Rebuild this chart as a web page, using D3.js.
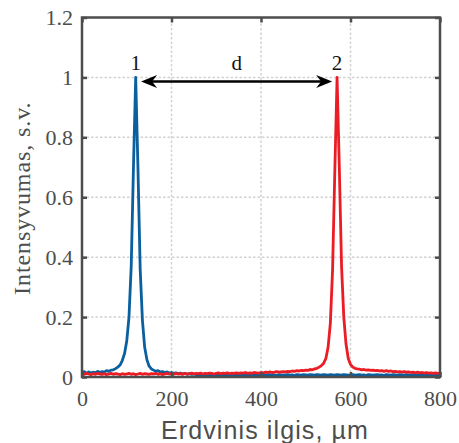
<!DOCTYPE html>
<html>
<head>
<meta charset="utf-8">
<script src="https://cdn.jsdelivr.net/npm/d3@7"></script>
<style>
  body { margin: 0; background: #fff; }
</style>
</head>
<body>
<div id="grafico"></div>
<script>
// posiciones de muestreo (µm)
const posicionesUm = [
  0, 5, 10, 15, 20, 25, 30, 35, 40, 45, 50, 55, 60, 65, 70, 75, 80, 85, 90, 95,
  100, 105, 110, 115, 120, 125, 130, 135, 140, 145, 150, 155, 160, 165, 170, 175, 180, 185, 190, 195,
  200, 205, 210, 215, 220, 225, 230, 235, 240, 245, 250, 255, 260, 265, 270, 275, 280, 285, 290, 295,
  300, 305, 310, 315, 320, 325, 330, 335, 340, 345, 350, 355, 360, 365, 370, 375, 380, 385, 390, 395,
  400, 405, 410, 415, 420, 425, 430, 435, 440, 445, 450, 455, 460, 465, 470, 475, 480, 485, 490, 495,
  500, 505, 510, 515, 520, 525, 530, 535, 540, 545, 550, 555, 560, 565, 570, 575, 580, 585, 590, 595,
  600, 605, 610, 615, 620, 625, 630, 635, 640, 645, 650, 655, 660, 665, 670, 675, 680, 685, 690, 695,
  700, 705, 710, 715, 720, 725, 730, 735, 740, 745, 750, 755, 760, 765, 770, 775, 780, 785, 790, 795,
  800
];

// smailė 1 (mėlyna)
const intensidad1 = [
  0.014, 0.018, 0.012, 0.017, 0.013, 0.016, 0.014, 0.019, 0.015, 0.018,
  0.016, 0.021, 0.019, 0.023, 0.024, 0.028, 0.033, 0.040, 0.055, 0.078,
  0.12, 0.20, 0.37, 0.70, 1.0, 0.70, 0.36, 0.19, 0.10, 0.058,
  0.036, 0.027, 0.023, 0.019, 0.021, 0.017, 0.018, 0.015, 0.017, 0.013,
  0.015, 0.012, 0.014, 0.011, 0.013, 0.010, 0.012, 0.009, 0.011, 0.009,
  0.010, 0.008, 0.009, 0.007, 0.008, 0.006, 0.008, 0.006, 0.007, 0.005,
  0.007,
  0.007, 0.008, 0.006, 0.008, 0.007, 0.009, 0.006, 0.007, 0.008, 0.006,
  0.008, 0.007, 0.006, 0.008, 0.007, 0.006, 0.008, 0.007, 0.005, 0.007,
  0.008, 0.006, 0.007, 0.008, 0.006, 0.007, 0.005, 0.008, 0.007, 0.006,
  0.007, 0.008, 0.006, 0.007, 0.005, 0.008, 0.007, 0.006, 0.008, 0.007,
  0.006, 0.008, 0.007, 0.006, 0.008, 0.007, 0.006, 0.008, 0.007, 0.006,
  0.008, 0.007, 0.006, 0.008, 0.007, 0.006, 0.008, 0.007, 0.006, 0.007,
  0.008, 0.006, 0.007, 0.008, 0.006, 0.007, 0.005, 0.008, 0.007, 0.006,
  0.007, 0.008, 0.006, 0.007, 0.005, 0.008, 0.007, 0.006, 0.008, 0.007,
  0.006, 0.008, 0.007, 0.006, 0.008, 0.007, 0.006, 0.008, 0.007, 0.006,
  0.008, 0.007, 0.006, 0.008, 0.007, 0.006, 0.008, 0.007, 0.006, 0.007
];

// smailė 2 (raudona)
const intensidad2 = [
  0.011, 0.009, 0.012, 0.010, 0.008, 0.011, 0.009, 0.012, 0.010, 0.009,
  0.011, 0.008, 0.010, 0.012, 0.009, 0.011, 0.010, 0.008, 0.011, 0.009,
  0.010, 0.012, 0.009, 0.011, 0.008, 0.010, 0.012, 0.009, 0.011, 0.010,
  0.009, 0.011, 0.010, 0.012, 0.009, 0.011, 0.008, 0.010, 0.012, 0.010,
  0.011, 0.009, 0.012, 0.010, 0.011, 0.009, 0.012, 0.010, 0.011, 0.013,
  0.010, 0.012, 0.011, 0.013, 0.010, 0.012, 0.011, 0.013, 0.012, 0.010,
  0.012, 0.014, 0.011, 0.013, 0.012, 0.014, 0.011, 0.013, 0.012, 0.014,
  0.012, 0.014, 0.013, 0.015, 0.012, 0.014, 0.013, 0.015, 0.014, 0.013,
  0.015, 0.014, 0.016, 0.015, 0.017, 0.015, 0.016, 0.018, 0.016, 0.017,
  0.018, 0.017, 0.019, 0.018, 0.020, 0.019, 0.021, 0.020, 0.022, 0.021,
  0.023, 0.022, 0.025, 0.024, 0.027, 0.029, 0.033, 0.038, 0.046, 0.062,
  0.10, 0.18, 0.36, 0.69, 1.0, 0.70, 0.37, 0.20, 0.11, 0.062,
  0.042, 0.033, 0.029, 0.027, 0.026, 0.024, 0.025, 0.023, 0.024, 0.022,
  0.023, 0.021, 0.022, 0.020, 0.021, 0.019, 0.021, 0.019, 0.020, 0.018,
  0.019, 0.017, 0.018, 0.016, 0.018, 0.016, 0.017, 0.015, 0.016, 0.014,
  0.016, 0.014, 0.015, 0.013, 0.015, 0.013, 0.014, 0.012, 0.014, 0.012,
  0.013
];

const ticksX = [0, 200, 400, 600, 800];
const ticksY = [0, 0.2, 0.4, 0.6, 0.8, 1, 1.2];
const etiquetasY = ["0", "0.2", "0.4", "0.6", "0.8", "1", "1.2"];

const ancho = 459, alto = 443;
const margin = { top: 17.5, right: 19, bottom: 66, left: 82 };
const gris = "#4d4d4d";
const serif = "'Liberation Serif', 'Times New Roman', serif";

const svg = d3.select("#grafico").append("svg")
  .attr("width", ancho)
  .attr("height", alto);

const x = d3.scaleLinear().domain([0, 800]).range([margin.left, ancho - margin.right]);
const y = d3.scaleLinear().domain([0, 1.2]).range([alto - margin.bottom, margin.top]);

// rejilla punteada
svg.append("g").selectAll("line")
  .data(ticksX.slice(1, -1)).enter().append("line")
  .attr("x1", d => x(d)).attr("x2", d => x(d))
  .attr("y1", y(0)).attr("y2", y(1.2))
  .attr("stroke", "#d2d2d2").attr("stroke-width", 1.5).attr("stroke-dasharray", "2.5,2");
svg.append("g").selectAll("line")
  .data(ticksY.slice(1, -1)).enter().append("line")
  .attr("y1", d => y(d)).attr("y2", d => y(d))
  .attr("x1", x(0)).attr("x2", x(800))
  .attr("stroke", "#d2d2d2").attr("stroke-width", 1.5).attr("stroke-dasharray", "2.5,2");

// curvas
const linea = serie => d3.line()
  .x((d, i) => x(posicionesUm[i]))
  .y(d => y(d))(serie);

svg.append("path")
  .attr("d", linea(intensidad1))
  .attr("fill", "none").attr("stroke", "#0a5f9e")
  .attr("stroke-width", 2.8).attr("stroke-linejoin", "round");
svg.append("path")
  .attr("d", linea(intensidad2))
  .attr("fill", "none").attr("stroke", "#ec1c24")
  .attr("stroke-width", 2.8).attr("stroke-linejoin", "round");

// ejes (marcas hacia adentro)
const ejeX = svg.append("g")
  .attr("transform", `translate(0,${y(0)})`)
  .call(d3.axisBottom(x).tickValues(ticksX).tickSize(-5).tickPadding(13).tickFormat(d3.format("d")));
const ejeY = svg.append("g")
  .attr("transform", `translate(${x(0)},0)`)
  .call(d3.axisLeft(y).tickValues(ticksY).tickSize(-5).tickPadding(9).tickFormat((d, i) => etiquetasY[i]));
const ejeTop = svg.append("g")
  .attr("transform", `translate(0,${y(1.2)})`)
  .call(d3.axisTop(x).tickValues(ticksX).tickSize(-5).tickFormat(""));
const ejeDer = svg.append("g")
  .attr("transform", `translate(${x(800)},0)`)
  .call(d3.axisRight(y).tickValues(ticksY).tickSize(-5).tickFormat(""));

[ejeX, ejeY, ejeTop, ejeDer].forEach(g => {
  g.select(".domain").remove();
  g.selectAll(".tick line").attr("stroke", gris).attr("stroke-width", 2.5);
  g.selectAll("text")
    .attr("fill", gris)
    .style("font-family", serif)
    .style("font-size", "22px");
});

// marco
svg.append("rect")
  .attr("x", x(0)).attr("y", y(1.2))
  .attr("width", x(800) - x(0)).attr("height", y(0) - y(1.2))
  .attr("fill", "none").attr("stroke", gris).attr("stroke-width", 2.5);

// titulos de ejes
svg.append("text")
  .attr("x", (x(0) + x(800)) / 2 + 4)
  .attr("y", 439)
  .attr("text-anchor", "middle")
  .attr("fill", gris)
  .style("font-family", "'Liberation Sans', Arial, sans-serif")
  .style("font-size", "25px")
  .style("letter-spacing", "1.1px")
  .text("Erdvinis ilgis, µm");

svg.append("text")
  .attr("transform", `translate(30,${(y(0) + y(1.2)) / 2 + 1}) rotate(-90)`)
  .attr("text-anchor", "middle")
  .attr("fill", gris)
  .style("font-family", serif)
  .style("font-size", "24px")
  .style("letter-spacing", "0.9px")
  .text("Intensyvumas, s.v.");

// anotaciones
[["1", 120], ["d", 346], ["2", 570]].forEach(([t, pos]) => {
  svg.append("text")
    .attr("x", x(pos)).attr("y", y(1.026))
    .attr("text-anchor", "middle")
    .attr("fill", "#111")
    .style("font-family", serif)
    .style("font-size", "21px")
    .text(t);
});

// flecha doble
const ya = y(0.986);
const xa1 = x(132), xa2 = x(559);
svg.append("line")
  .attr("x1", xa1 + 8).attr("x2", xa2 - 8)
  .attr("y1", ya).attr("y2", ya)
  .attr("stroke", "#000").attr("stroke-width", 2.5);
const punta = (tx, dir) => `M${tx},${ya} L${tx + dir * 16},${ya - 6.5} L${tx + dir * 11},${ya} L${tx + dir * 16},${ya + 6.5} Z`;
svg.append("path").attr("d", punta(xa1, 1)).attr("fill", "#000");
svg.append("path").attr("d", punta(xa2, -1)).attr("fill", "#000");
</script>
</body>
</html>
